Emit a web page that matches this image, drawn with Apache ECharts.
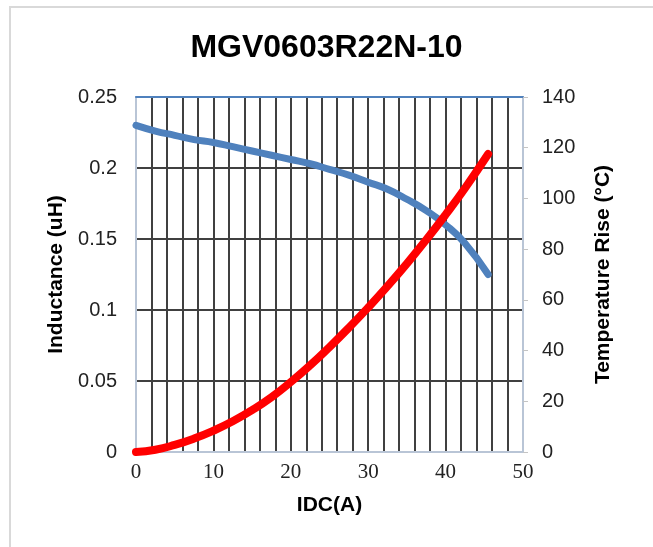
<!DOCTYPE html>
<html>
<head>
<meta charset="utf-8">
<script src="https://cdn.jsdelivr.net/npm/echarts@6/dist/echarts.min.js"></script>
<style>
html,body{margin:0;padding:0;background:#fff;}
#chart{width:653px;height:547px;}
</style>
</head>
<body>
<div id="chart"></div>
<script>
const titleText = 'MGV0603R22N-10';
const xName = 'IDC(A)';
const leftName = 'Inductance (uH)';
const rightName = 'Temperature Rise (\u00B0C)';

const idc = [0, 2.5, 5, 7.5, 10, 12.5, 15, 17.5, 20, 22.5, 25, 27.5, 30, 32.5, 35, 37.5, 40, 42.5, 45.5];
const inductance = [0.230, 0.226, 0.223, 0.220, 0.218, 0.215, 0.212, 0.209, 0.206, 0.203, 0.199, 0.195, 0.190, 0.185, 0.178, 0.170, 0.160, 0.147, 0.125];
const tempRise = [0, 0.9, 2.8, 5.3, 8.4, 12.1, 16.5, 21.6, 27.6, 34.2, 41.4, 49.0, 57.0, 65.4, 74.3, 83.7, 93.6, 104.0, 117.5];

const chart = echarts.init(document.getElementById('chart'), null, {renderer: 'canvas'});
const gridColor = '#404040';
const axisLight = '#b9c5d6';
const sans = 'Liberation Sans, Arial, sans-serif';

chart.setOption({
  backgroundColor: '#ffffff',
  animation: false,
  graphic: [{
    type: 'rect', silent: true, z: -10,
    shape: {x: 10, y: 7, width: 700, height: 600},
    style: {fill: 'none', stroke: '#d9d9d9', lineWidth: 2}
  }],
  title: {
    text: titleText, left: 'center', top: 27,
    textStyle: {fontFamily: sans, fontWeight: 'bold', fontSize: 32, color: '#000'}
  },
  grid: {left: 136, right: 130, top: 97, bottom: 95, containLabel: false},
  xAxis: [{
    type: 'value', min: 0, max: 50, interval: 10, position: 'bottom',
    name: xName, nameLocation: 'middle', nameGap: 43,
    nameTextStyle: {fontFamily: sans, fontWeight: 'bold', fontSize: 21, color: '#000'},
    axisLine: {show: true, onZero: false, lineStyle: {color: axisLight, width: 2}},
    axisTick: {show: false},
    minorTick: {show: false, splitNumber: 5},
    axisLabel: {margin: 10, fontFamily: 'Liberation Serif, Times New Roman, serif', fontSize: 21, color: '#222'},
    splitLine: {show: true, showMinLine: false, showMaxLine: false, lineStyle: {color: gridColor, width: 2}},
    minorSplitLine: {show: true, lineStyle: {color: gridColor, width: 2}}
  }, {
    type: 'value', min: 0, max: 50, position: 'top',
    axisLine: {show: true, onZero: false, lineStyle: {color: '#4f81bd', width: 2}},
    axisTick: {show: false}, axisLabel: {show: false}, splitLine: {show: false}
  }],
  yAxis: [{
    type: 'value', min: 0, max: 0.25, interval: 0.05, position: 'left',
    name: leftName, nameLocation: 'middle', nameGap: 67, nameRotate: 90,
    nameTextStyle: {fontFamily: sans, fontWeight: 'bold', fontSize: 21, color: '#000'},
    axisLine: {show: true, onZero: false, lineStyle: {color: axisLight, width: 2}},
    axisTick: {show: false},
    axisLabel: {margin: 19, fontFamily: sans, fontSize: 20, color: '#222'},
    splitLine: {show: true, showMinLine: false, showMaxLine: false, lineStyle: {color: gridColor, width: 2}}
  }, {
    type: 'value', min: 0, max: 140, interval: 20, position: 'right',
    name: rightName, nameLocation: 'middle', nameGap: 70, nameRotate: 90,
    nameTextStyle: {fontFamily: sans, fontWeight: 'bold', fontSize: 21, color: '#000'},
    axisLine: {show: true, onZero: false, lineStyle: {color: axisLight, width: 2}},
    axisTick: {show: true, inside: false, length: 5, lineStyle: {color: '#c4c4c4', width: 1}},
    axisLabel: {margin: 19, fontFamily: sans, fontSize: 20, color: '#222'},
    splitLine: {show: false}
  }],
  series: [{
    type: 'line', xAxisIndex: 0, yAxisIndex: 0, smooth: true, symbol: 'none',
    data: idc.map((x, i) => [x, inductance[i]]),
    lineStyle: {color: '#4f81bd', width: 7, cap: 'round', join: 'round'}
  }, {
    type: 'line', xAxisIndex: 0, yAxisIndex: 1, smooth: true, symbol: 'none',
    data: idc.map((x, i) => [x, tempRise[i]]),
    lineStyle: {color: '#ff0000', width: 8, cap: 'round', join: 'round'}
  }]
});
</script>
</body>
</html>
